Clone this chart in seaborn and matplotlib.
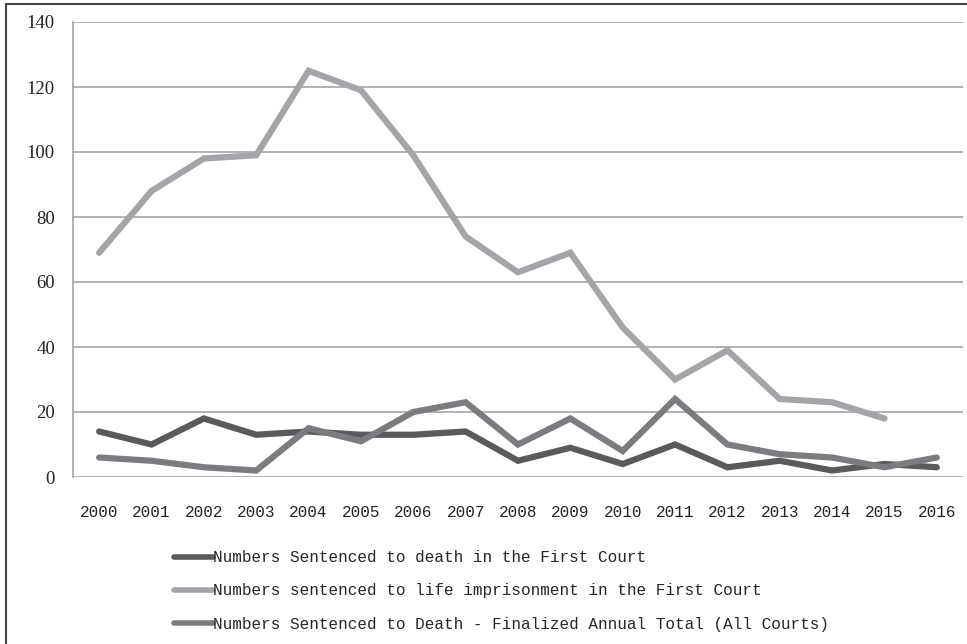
import numpy as np
import pandas as pd
import matplotlib
matplotlib.use("Agg")
import matplotlib.pyplot as plt
from matplotlib.lines import Line2D
import seaborn as sns

# data
years = list(range(2000, 2017))
death_first = [14, 10, 18, 13, 14, 13, 13, 14, 5, 9, 4, 10, 3, 5, 2, 4, 3]
life_first = [69, 88, 98, 99, 125, 119, 99, 74, 63, 69, 46, 30, 39, 24, 23, 18, np.nan]
death_final = [6, 5, 3, 2, 15, 11, 20, 23, 10, 18, 8, 24, 10, 7, 6, 3, 6]

labels = [
    "Numbers Sentenced to death in the First Court",
    "Numbers sentenced to life imprisonment in the First Court",
    "Numbers Sentenced to Death - Finalized Annual Total (All Courts)",
]
colors = ["#5a5a5c", "#a4a5a8", "#7b7c7f"]

df = pd.DataFrame({"Year": years, labels[0]: death_first,
                   labels[1]: life_first, labels[2]: death_final})
long = df.melt(id_vars="Year", var_name="Series", value_name="Value").dropna()

sns.set_style("white")
fig = plt.figure(figsize=(9.67, 6.44), dpi=100)
ax = fig.add_axes([73 / 967, 1 - 477 / 644, (963 - 73) / 967, (477 - 22) / 644])

sns.lineplot(data=long, x="Year", y="Value", hue="Series", hue_order=labels,
             palette=colors, linewidth=4.5, ax=ax, legend=False,
             solid_capstyle="round", solid_joinstyle="miter")

ax.set_xlim(1999.5, 2016.5)
ax.set_ylim(0, 140)
ax.set_yticks(range(0, 141, 20))
ax.set_xticks(years)
ax.set_xticklabels([str(y) for y in years], family="Liberation Mono", fontsize=11.5)
ax.set_yticklabels([str(v) for v in range(0, 141, 20)], family="Liberation Serif",
                   fontsize=13.5, color="#222222")
ax.tick_params(axis="x", length=0, pad=20, colors="#222222")
ax.tick_params(axis="y", length=0, pad=13)
ax.set_xlabel("")
ax.set_ylabel("")
ax.yaxis.grid(True, color="#9c9c9e", linewidth=1.1)
ax.set_axisbelow(True)
for side in ["top", "right", "bottom"]:
    ax.spines[side].set_visible(False)
ax.spines["left"].set_color("#9c9c9e")
ax.spines["left"].set_linewidth(1.1)

handles = [Line2D([0], [0], color=c, linewidth=4) for c in colors]
fig.legend(handles, labels, loc="center left", bbox_to_anchor=(174 / 967, 1 - 591 / 644),
           frameon=False, prop={"family": "Liberation Mono", "size": 11.5},
           handlelength=2.45, handletextpad=0.0, labelspacing=1.15,
           borderpad=0, borderaxespad=0)

# figure frame (left and top edges)
fig.add_artist(Line2D([6 / 967, 6 / 967], [0, 1 - 4 / 644], color="#444444", linewidth=1.5))
fig.add_artist(Line2D([6 / 967, 1], [1 - 4 / 644, 1 - 4 / 644], color="#444444", linewidth=1.5))

fig.savefig("out.png", dpi=100)
